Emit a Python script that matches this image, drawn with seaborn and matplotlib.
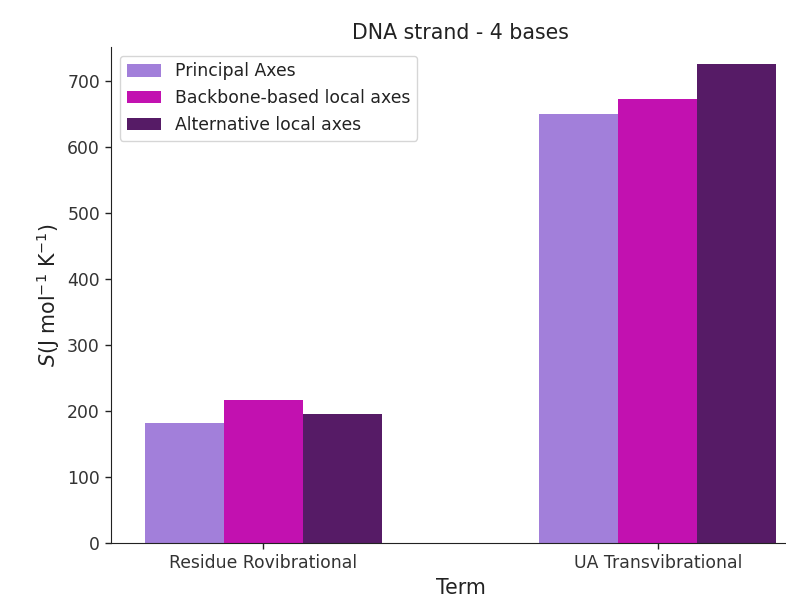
import matplotlib
matplotlib.use("Agg")
import matplotlib.pyplot as plt
import seaborn as sns
import pandas as pd

terms = ["Residue Rovibrational", "UA Transvibrational"]
methods = ["Principal Axes", "Backbone-based local axes", "Alternative local axes"]
principal = [181, 649]
backbone = [216, 672]
alternative = [195, 725]
colors = ["#A27FDA", "#C211B0", "#561B66"]

rows = []
for m, vals in zip(methods, [principal, backbone, alternative]):
    for t, v in zip(terms, vals):
        rows.append({"Term": t, "Method": m, "S": v})
df = pd.DataFrame(rows)

sns.set_style("ticks")
plt.rcParams["font.family"] = ["DejaVu Sans"]

W, H = 786, 595
fig = plt.figure(figsize=(W / 100, H / 100), dpi=100)
ax = fig.add_axes([111 / W, 1 - 543 / H, 699 / W, (543 - 47) / H])

sns.barplot(data=df, x="Term", y="S", hue="Method", hue_order=methods,
            palette=colors, width=0.6, saturation=1, ax=ax, errorbar=None,
            edgecolor="none", linewidth=0)

ax.set_xlim(-0.385, 1.385)
ax.set_ylim(0, 751)
sns.despine(ax=ax)
for s in ("left", "bottom"):
    ax.spines[s].set_color("#222222")
ax.tick_params(colors="#222222", labelcolor="#333333", labelsize=12.4,
               length=4.5, width=1)
ax.set_title("DNA strand - 4 bases", fontsize=14.8, color="#222222")
ax.set_xlabel("Term", fontsize=14.8, color="#222222")
ax.set_ylabel(r"$S$(J mol$^{-1}$ K$^{-1}$)", fontsize=14.8, color="#222222")
leg = ax.legend(loc="upper left", fontsize=12.4, frameon=True,
                bbox_to_anchor=(0.0, 1.0), borderaxespad=0.5)
for t in leg.get_texts():
    t.set_color("#222222")

fig.savefig("out.png", dpi=100)
